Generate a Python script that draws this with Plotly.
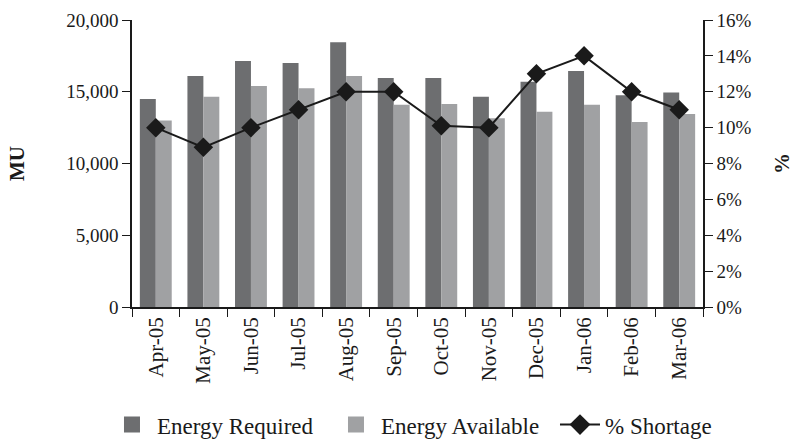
import plotly.graph_objects as go

months = ["Apr-05", "May-05", "Jun-05", "Jul-05", "Aug-05", "Sep-05",
          "Oct-05", "Nov-05", "Dec-05", "Jan-06", "Feb-06", "Mar-06"]
energy_required = [14500, 16100, 17150, 17000, 18450, 15950,
                   15950, 14650, 15700, 16450, 14750, 14950]
energy_available = [13000, 14650, 15400, 15250, 16100, 14100,
                    14150, 13150, 13600, 14100, 12900, 13450]
pct_shortage = [0.10, 0.089, 0.10, 0.11, 0.12, 0.12,
                0.101, 0.10, 0.13, 0.14, 0.12, 0.11]

FONT = "Liberation Serif"
DARK = "#6d6e70"
LIGHT = "#a0a1a3"
INK = "#1a1a1a"

fig = go.Figure()
fig.add_trace(go.Bar(x=months, y=energy_required, name="Energy Required",
                     marker=dict(color=DARK, line=dict(width=0)), showlegend=False))
fig.add_trace(go.Bar(x=months, y=energy_available, name="Energy Available",
                     marker=dict(color=LIGHT, line=dict(width=0)), showlegend=False))
fig.add_trace(go.Scatter(x=months, y=pct_shortage, name="% Shortage", yaxis="y2",
                         mode="lines+markers", showlegend=False,
                         line=dict(color=INK, width=2),
                         marker=dict(symbol="diamond", size=15, color=INK)))

# legend entries with larger square swatches for the bar series
for name, color in [("Energy Required", DARK), ("Energy Available", LIGHT)]:
    fig.add_trace(go.Scatter(x=[None], y=[None], name=name, mode="markers",
                             marker=dict(symbol="square", size=22, color=color)))
fig.add_trace(go.Scatter(x=[None], y=[None], name="% Shortage", yaxis="y2",
                         mode="lines+markers", line=dict(color=INK, width=2),
                         marker=dict(symbol="diamond", size=16, color=INK)))

fig.update_layout(
    width=794, height=439,
    margin=dict(l=132, r=91, t=20, b=132, autoexpand=False),
    paper_bgcolor="white", plot_bgcolor="white",
    font=dict(family=FONT, size=19, color=INK),
    barmode="group", bargap=0.33, bargroupgap=0,
    showlegend=True,
    legend=dict(orientation="h", x=-0.0438, xanchor="left",
                y=-0.41, yanchor="middle",
                font=dict(family=FONT, size=23, color=INK),
                itemsizing="trace", itemwidth=40, traceorder="normal",
                entrywidth=169, entrywidthmode="pixels"),
    xaxis=dict(type="category", range=[-0.5, 11.5], tickangle=-90, showline=True,
               linecolor=INK, linewidth=1.5,
               ticks="outside", tickson="boundaries", ticklen=8, tickcolor=INK,
               automargin=False,
               tickfont=dict(family=FONT, size=21, color=INK), showgrid=False),
    yaxis=dict(range=[0, 20000], dtick=5000, tickformat=",", showline=True,
               linecolor=INK, linewidth=1.5, ticks="outside", ticklen=8, tickcolor=INK,
               showgrid=False, zeroline=False, automargin=False,
               tickfont=dict(family=FONT, size=19, color=INK),
               title=dict(text="<b>MU</b>", standoff=36,
                          font=dict(family=FONT, size=21, color=INK))),
    yaxis2=dict(range=[0, 0.16], dtick=0.02, tickformat=".0%", overlaying="y",
                side="right", showline=True, linecolor=INK, linewidth=1.5,
                ticks="outside", ticklen=8, tickcolor=INK, showgrid=False, zeroline=False,
                automargin=False,
                tickfont=dict(family=FONT, size=19, color=INK),
                title=dict(text="<b>%</b>", standoff=30,
                           font=dict(family=FONT, size=21, color=INK))),
)

fig.write_html("out.html")
